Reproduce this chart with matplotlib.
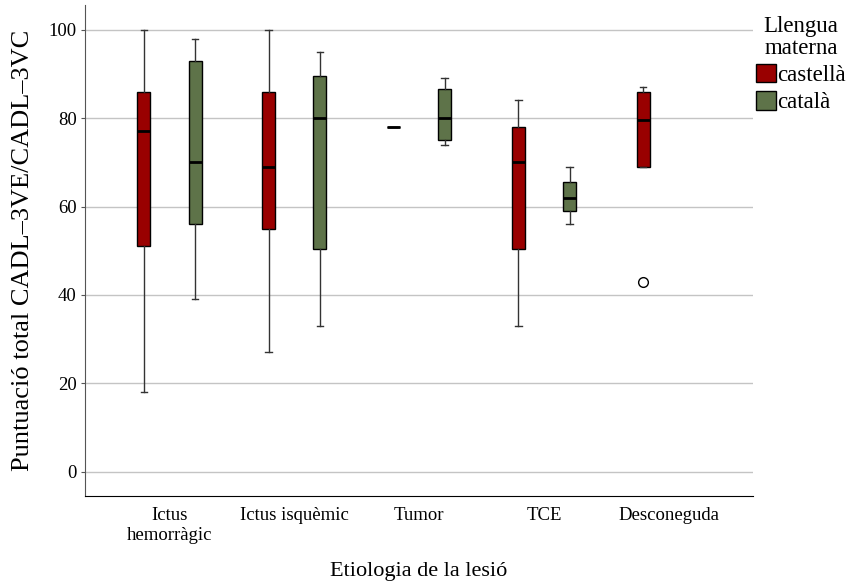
import matplotlib.pyplot as plt
from matplotlib.patches import Patch

# categories and box statistics
categories = ['Ictus\nhemorràgic', 'Ictus isquèmic', 'Tumor', 'TCE', 'Desconeguda']
groups = ['castellà', 'català']
colors = ['#990000', '#5e7349']

# per group: (whislo, q1, med, q3, whishi) per category, None when absent
castella = [(18, 51, 77, 86, 100),
            (27, 55, 69, 86, 100),
            (78, 78, 78, 78, 78),
            (33, 50.5, 70, 78, 84),
            (69, 69, 79.5, 86, 87)]
catala = [(39, 56, 70, 93, 98),
          (33, 50.5, 80, 89.5, 95),
          (74, 75, 80, 86.5, 89),
          (56, 59, 62, 65.5, 69),
          None]
fliers_castella = [[], [], [], [], [43]]
fliers_catala = [[], [], [], [], []]

plt.rcParams['font.family'] = ['Liberation Serif', 'DejaVu Serif']

fig = plt.figure(figsize=(8.52, 5.87), dpi=100)
ax = fig.add_axes([0.0998, 0.155, 0.7842, 0.8365])

offset = 0.205
width = 0.104
for gi, (data, fl) in enumerate([(castella, fliers_castella), (catala, fliers_catala)]):
    stats = []
    pos = []
    for i, s in enumerate(data):
        if s is None:
            continue
        stats.append(dict(whislo=s[0], q1=s[1], med=s[2], q3=s[3], whishi=s[4], fliers=fl[i]))
        pos.append(i + (-offset if gi == 0 else offset))
    ax.bxp(stats, positions=pos, widths=width, patch_artist=True, showfliers=True,
           boxprops=dict(facecolor=colors[gi], edgecolor='black', linewidth=1.0),
           medianprops=dict(color='black', linewidth=2.0),
           whiskerprops=dict(color='#333333', linewidth=1.0),
           capprops=dict(color='#333333', linewidth=1.0),
           capwidths=width * 0.5,
           flierprops=dict(marker='o', markerfacecolor='white', markeredgecolor='black',
                           markersize=7, markeredgewidth=1.0),
           manage_ticks=False, zorder=3)

ax.set_xlim(-0.676, 4.676)
ax.set_ylim(-5.5, 105.6)
ax.set_xticks(range(len(categories)))
ax.set_xticklabels(categories, fontsize=13.5, linespacing=1.25)
ax.set_yticks([0, 20, 40, 60, 80, 100])
ax.tick_params(axis='y', labelsize=13.5, length=3, color='#555555', pad=3)
ax.tick_params(axis='x', length=0, pad=8)
ax.grid(axis='y', color='#c4c4c4', linewidth=1.0, zorder=0)
ax.set_axisbelow(True)
for side in ['top', 'right']:
    ax.spines[side].set_visible(False)
ax.spines['left'].set_color('#555555')
ax.spines['bottom'].set_color('black')

ax.set_xlabel('Etiologia de la lesió', fontsize=16, labelpad=13)
ax.set_ylabel('Puntuació total CADL–3VE/CADL–3VC', fontsize=19)
ax.yaxis.set_label_coords(-0.077, 0.5)

handles = [Patch(facecolor=c, edgecolor='black', label=g) for c, g in zip(colors, groups)]
leg = fig.legend(handles=handles, title='Llengua\nmaterna', loc='upper left',
                 bbox_to_anchor=(756 / 852, 1 - 16 / 587), bbox_transform=fig.transFigure,
                 frameon=False, fontsize=16.5, title_fontsize=16.5,
                 handlelength=0.87, handleheight=0.87, handletextpad=0.05, labelspacing=0.22,
                 borderaxespad=0, borderpad=0)
leg.get_title().set_multialignment('center')
leg.get_title().set_linespacing(1.05)

plt.savefig('out.png', dpi=100)
